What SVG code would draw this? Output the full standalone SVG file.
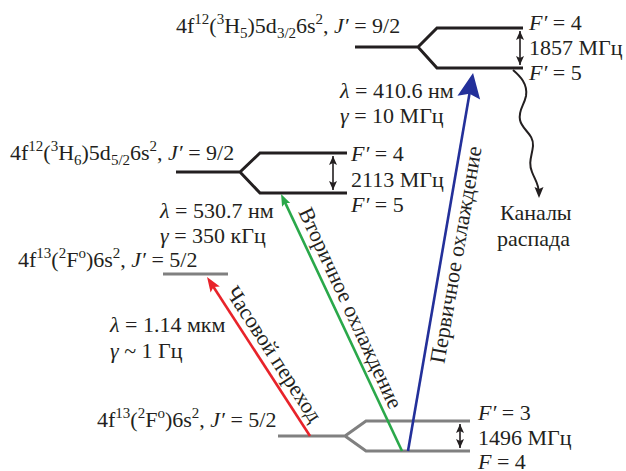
<svg xmlns="http://www.w3.org/2000/svg" width="626" height="471" viewBox="0 0 626 471" font-family="Times New Roman, serif">
<defs>
<marker id="dh" markerUnits="userSpaceOnUse" viewBox="-10 -5 12 10" refX="0" refY="0" markerWidth="12" markerHeight="10" orient="auto-start-reverse" overflow="visible"><path d="M0,0 L-9,-4 L-7,0 L-9,4 Z" fill="#231f20"/></marker>
<marker id="mb" markerUnits="userSpaceOnUse" refX="-15" refY="0" markerWidth="30" markerHeight="30" orient="auto" overflow="visible"><path d="M0,0 L-25,-11.5 L-21,0 L-25,11.5 Z" fill="#23309a"/></marker>
<marker id="mg" markerUnits="userSpaceOnUse" refX="-6" refY="0" markerWidth="14" markerHeight="12" orient="auto" overflow="visible"><path d="M0,0 L-12,-4.5 L-10,0 L-12,4.5 Z" fill="#2aa84a"/></marker>
<marker id="mr" markerUnits="userSpaceOnUse" refX="-8" refY="0" markerWidth="16" markerHeight="14" orient="auto" overflow="visible"><path d="M0,0 L-15,-5.5 L-12,0 L-15,5.5 Z" fill="#e8232a"/></marker>
<marker id="mk" markerUnits="userSpaceOnUse" refX="-4" refY="0" markerWidth="14" markerHeight="12" orient="auto" overflow="visible"><path d="M0,0 L-11,-4.5 L-9,0 L-11,4.5 Z" fill="#231f20"/></marker>
</defs>

<g id="level-top">
<path fill="none" stroke="#231f20" stroke-width="3" d="M355,47 H418 L437,28 H523 M418,47 L437,68 H523"/>
<line stroke="#231f20" stroke-width="1.6" marker-start="url(#dh)" marker-end="url(#dh)" x1="520" y1="31" x2="520" y2="65"/>
<text font-family="Times New Roman, serif" font-size="22" fill="#231f20" x="176" y="33">4f<tspan font-size="15" dy="-9">12</tspan><tspan dy="9">(</tspan><tspan font-size="15" dy="-9">3</tspan><tspan dy="9">H</tspan><tspan font-size="15" dy="5">5</tspan><tspan dy="-5">)5d</tspan><tspan font-size="15" dy="5">3/2</tspan><tspan dy="-5">6s</tspan><tspan font-size="15" dy="-9">2</tspan><tspan dy="9">, </tspan><tspan font-style="italic">J′</tspan> = 9/2</text>
<text font-family="Times New Roman, serif" font-size="22" fill="#231f20" x="529" y="30"><tspan font-style="italic">F′</tspan> = 4</text>
<text font-family="Times New Roman, serif" font-size="22" fill="#231f20" x="529" y="55">1857 МГц</text>
<text font-family="Times New Roman, serif" font-size="22" fill="#231f20" x="529" y="80"><tspan font-style="italic">F′</tspan> = 5</text>
</g>

<g id="level-mid">
<path fill="none" stroke="#231f20" stroke-width="3" d="M176,172 H240 L260,153 H347 M240,172 L260,193 H347"/>
<line stroke="#231f20" stroke-width="1.6" marker-start="url(#dh)" marker-end="url(#dh)" x1="333" y1="156" x2="333" y2="190"/>
<text font-family="Times New Roman, serif" font-size="22" fill="#231f20" x="10" y="160">4f<tspan font-size="15" dy="-9">12</tspan><tspan dy="9">(</tspan><tspan font-size="15" dy="-9">3</tspan><tspan dy="9">H</tspan><tspan font-size="15" dy="5">6</tspan><tspan dy="-5">)5d</tspan><tspan font-size="15" dy="5">5/2</tspan><tspan dy="-5">6s</tspan><tspan font-size="15" dy="-9">2</tspan><tspan dy="9">, </tspan><tspan font-style="italic">J′</tspan> = 9/2</text>
<text font-family="Times New Roman, serif" font-size="22" fill="#231f20" x="351" y="161"><tspan font-style="italic">F′</tspan> = 4</text>
<text font-family="Times New Roman, serif" font-size="22" fill="#231f20" x="351" y="187">2113 МГц</text>
<text font-family="Times New Roman, serif" font-size="22" fill="#231f20" x="351" y="212"><tspan font-style="italic">F′</tspan> = 5</text>
</g>

<g id="level-clock">
<path fill="none" stroke="#808080" stroke-width="3" d="M163,274 H228"/>
<text font-family="Times New Roman, serif" font-size="22" fill="#231f20" x="18" y="267">4f<tspan font-size="15" dy="-9">13</tspan><tspan dy="9">(</tspan><tspan font-size="15" dy="-9">2</tspan><tspan dy="9">F</tspan><tspan font-size="15" dy="-9">o</tspan><tspan dy="9">)6s</tspan><tspan font-size="15" dy="-9">2</tspan><tspan dy="9">, </tspan><tspan font-style="italic">J′</tspan> = 5/2</text>
</g>

<g id="level-ground">
<path fill="none" stroke="#808080" stroke-width="3" d="M278,436 H345 L366,421 H470 M345,436 L366,451 H470"/>
<line stroke="#231f20" stroke-width="1.6" marker-start="url(#dh)" marker-end="url(#dh)" x1="460" y1="424" x2="460" y2="448"/>
<text font-family="Times New Roman, serif" font-size="22" fill="#231f20" x="97" y="427">4f<tspan font-size="15" dy="-9">13</tspan><tspan dy="9">(</tspan><tspan font-size="15" dy="-9">2</tspan><tspan dy="9">F</tspan><tspan font-size="15" dy="-9">o</tspan><tspan dy="9">)6s</tspan><tspan font-size="15" dy="-9">2</tspan><tspan dy="9">, </tspan><tspan font-style="italic">J′</tspan> = 5/2</text>
<text font-family="Times New Roman, serif" font-size="22" fill="#231f20" x="478" y="420"><tspan font-style="italic">F′</tspan> = 3</text>
<text font-family="Times New Roman, serif" font-size="22" fill="#231f20" x="478" y="445">1496 МГц</text>
<text font-family="Times New Roman, serif" font-size="22" fill="#231f20" x="478" y="469"><tspan font-style="italic">F</tspan> = 4</text>
</g>

<g id="decay">
<text font-family="Times New Roman, serif" font-size="22" fill="#231f20" x="500" y="220">Каналы</text>
<text font-family="Times New Roman, serif" font-size="22" fill="#231f20" x="497" y="246">распада</text>
</g>

<g id="params">
<text font-family="Times New Roman, serif" font-size="22" fill="#231f20" x="340" y="98"><tspan font-style="italic">λ</tspan> = 410.6 нм</text>
<text font-family="Times New Roman, serif" font-size="22" fill="#231f20" x="340" y="123"><tspan font-style="italic">γ</tspan> = 10 МГц</text>
<text font-family="Times New Roman, serif" font-size="22" fill="#231f20" x="160" y="218"><tspan font-style="italic">λ</tspan> = 530.7 нм</text>
<text font-family="Times New Roman, serif" font-size="22" fill="#231f20" x="160" y="243"><tspan font-style="italic">γ</tspan> = 350 кГц</text>
<text font-family="Times New Roman, serif" font-size="22" fill="#231f20" x="110" y="332"><tspan font-style="italic">λ</tspan> = 1.14 мкм</text>
<text font-family="Times New Roman, serif" font-size="22" fill="#231f20" x="110" y="358"><tspan font-style="italic">γ</tspan> ~ 1 Гц</text>
</g>

<g id="connectors">
<line x1="408" y1="451" x2="470.5" y2="87.8" stroke="#23309a" stroke-width="2.6" marker-end="url(#mb)"/>
<line x1="402" y1="451" x2="283.6" y2="199.4" stroke="#2aa84a" stroke-width="2.6" marker-end="url(#mg)"/>
<line x1="310" y1="436" x2="211.4" y2="283.7" stroke="#e8232a" stroke-width="2.6" marker-end="url(#mr)"/>
<path d="M513,70 C520,76 528,84 526,96 C524,106 518,110 520,120 C522,130 534,134 533,146 C532,156 528,162 532,172 C535,180 539,184 539,194" fill="none" stroke="#231f20" stroke-width="2" marker-end="url(#mk)"/>
<text font-family="Times New Roman, serif" font-size="22" fill="#231f20" transform="translate(268,358) rotate(57)" text-anchor="middle">Часовой переход</text>
<text font-family="Times New Roman, serif" font-size="22" fill="#231f20" transform="translate(344,311) rotate(65.2)" text-anchor="middle">Вторичное охлаждение</text>
<text font-family="Times New Roman, serif" font-size="22" fill="#231f20" transform="translate(463,256) rotate(-80.2)" text-anchor="middle">Первичное охлаждение</text>
</g>
</svg>
